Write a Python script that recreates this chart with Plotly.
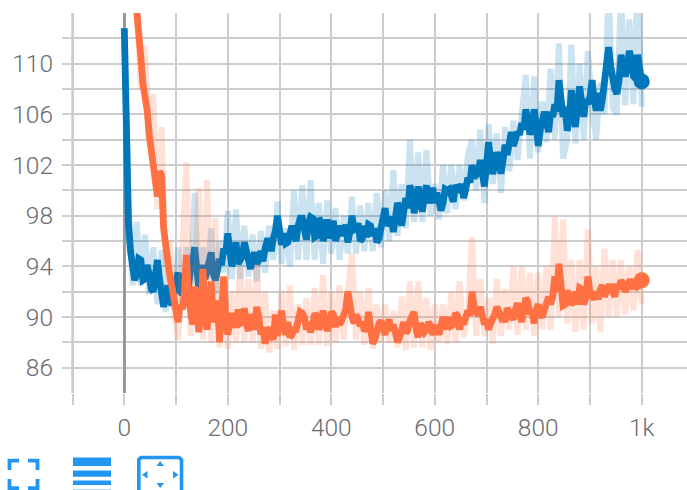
import plotly.graph_objects as go

steps = [0, 3] + list(range(8, 1001, 8))
mid_steps = list(range(12, 1000, 8))

blue_raw = [112.8, 106, 99.3, 92.5, 97.5, 92.5, 96.5, 91.8, 95.5, 91,
 95.3, 90.4, 93.5, 90.6, 95.5, 91, 95.5, 92, 99.8, 91.5,
 95.5, 93, 97, 91.8, 96, 93.5, 98.4, 93, 98.5, 93,
 97.2, 93.2, 96.5, 92.8, 96.8, 93.5, 97.2, 94.5, 99.1, 94.2,
 97, 94, 100, 94.5, 100.4, 94.5, 100.8, 94.5, 99, 94.2,
 99.2, 95, 98.6, 94.5, 98, 95, 99.5, 95, 98.8, 95.2,
 99, 95.2, 99.8, 95.5, 100, 96, 101.6, 96.4, 100.5, 97,
 104, 97.5, 103, 97.5, 103.2, 98, 100.5, 97.7, 102, 98.2,
 102, 98.5, 102, 99.2, 102.8, 104, 100, 104.8, 99, 105.2,
 100.5, 104.5, 99.8, 105, 101.5, 105.5, 102.4, 106, 109.1, 102.5,
 109, 103, 107, 103.8, 109.6, 104, 111.6, 102.5, 104, 111.5,
 103.7, 110, 104, 111, 106.5, 104, 108.5, 106, 116, 106.5,
 106, 116, 106.7, 113.5, 106.8, 117, 106.6]

blue_smooth = [112.8, 106, 97.5, 94, 93.4, 94.5, 93, 93.4, 92, 94.5,
 92, 91.6, 91.2, 92.2, 93.5, 91.8, 92.6, 93.8, 95.5, 92.2,
 94.1, 93.6, 95.1, 92.9, 94.6, 95.4, 96.6, 94, 95.9, 94.4,
 95.9, 94.3, 94.6, 94.2, 95.2, 95.4, 96, 96.2, 98, 95.7,
 95.8, 96.9, 96.6, 97.2, 97.8, 96.1, 97.9, 96.3, 97.8, 96,
 97.7, 97.2, 96, 97, 96.4, 95.9, 98, 97, 96, 97.2,
 97.3, 96.4, 95.9, 97, 98.6, 97.6, 96.7, 99, 97.2, 99.4,
 100.4, 98.2, 100.3, 98.3, 100.4, 99.6, 99, 99.2, 99, 100,
 99.6, 100.4, 99.9, 99.4, 101, 102, 101.2, 102.4, 100.3, 103.8,
 101.3, 103, 101.3, 103.6, 104.2, 103.5, 104.6, 105.3, 106.4, 104.4,
 106.4, 103.5, 105.6, 105.4, 106.2, 106.8, 108.7, 105.8, 104.7, 107.9,
 105, 108.2, 105.8, 106.8, 108.7, 106.3, 106.3, 108.7, 111.3, 108.4,
 107.6, 110.7, 109, 111, 109, 110.7, 108.6]

blue_smooth_mid = [95.2, 92.9, 94.6, 92.9, 94.1, 92.2, 92.9, 93, 90.8, 92.5,
 91, 93, 92, 93.4, 92.4, 94.3, 93, 93.5, 93, 94,
 93.4, 93.7, 94.1, 95, 95.2, 94.6, 94.2, 94.8, 95.2, 93.8,
 95.1, 94.5, 94.4, 96, 95.2, 96.8, 96.7, 96.6, 95.9, 97.2,
 96, 97.8, 97, 97.4, 97.8, 96.4, 97.5, 96.6, 96.2, 97.6,
 96.8, 97, 97.3, 96.7, 96.9, 97.4, 96.2, 96.3, 97.2, 97,
 96.2, 97.5, 97.2, 97.9, 97.8, 98.6, 98.3, 98.6, 99.7, 99,
 99.4, 99.6, 99, 100.2, 99.8, 98.4, 100.1, 100.1, 99.1, 100.2,
 100.5, 100.1, 100.6, 101, 101.4, 101, 102, 102.3, 102, 102.5,
 102.4, 102.8, 104.6, 103.9, 104.4, 104.8, 105.5, 105, 105.2, 104.8,
 106.2, 104.6, 105.8, 106.2, 107, 106.6, 105.6, 106.4, 106.8, 107,
 107.2, 107.4, 107.2, 107.7, 107.2, 109.4, 109.8, 108, 108.6, 110,
 109.6, 110.4, 108.8, 109.6]

orange_raw = [150, 140, 128, 120, 115, 108, 111.4, 103.5, 107.6, 98.5,
 105, 94, 96, 90.5, 88.2, 95, 102.2, 88.5, 93, 100.2,
 88.2, 100.8, 88, 97.8, 87.6, 93, 87.5, 92, 88, 94,
 88, 93, 88, 94.2, 87.5, 92, 87.2, 90.5, 87.5, 92.1,
 87.7, 92.5, 87.4, 91, 87.8, 91.5, 87.8, 92.3, 87.8, 93.3,
 87.7, 92, 88, 92.5, 88.2, 92.2, 95, 88.2, 92, 87.8,
 92.3, 87.5, 91, 88, 91, 88, 90.5, 87.6, 91.6, 87.4,
 92.8, 87.6, 92.8, 87.6, 91.5, 87.4, 91, 88, 91, 87.9,
 92, 88, 92.8, 88.4, 90.5, 96.3, 88.5, 93, 88.5, 91.5,
 87.9, 93, 88.5, 92.2, 89, 94, 88.6, 94, 89, 93.5,
 88.5, 93.5, 89, 94, 89, 97.9, 90, 97.7, 89.5, 94.5,
 88.8, 94.5, 89, 96.9, 89.5, 94, 88.8, 95.4, 90, 94.5,
 90, 94.5, 90.2, 94, 90.5, 95.3, 91]

orange_smooth = [150, 140, 125, 118, 114.5, 110.5, 107.5, 104.5, 102.8, 99.5,
 101.2, 95.5, 93.2, 91.3, 89.6, 90.6, 94.9, 90, 92.4, 88.8,
 93.8, 89, 92.8, 90, 88, 93.2, 88.6, 90.3, 89.2, 89.5,
 90.7, 88.9, 89.8, 90.8, 88.6, 87.9, 89.2, 88.2, 88.5, 90.5,
 88.6, 88.4, 89, 89.8, 90.3, 89, 88.8, 90.3, 89, 90.5,
 88.9, 90.4, 89.2, 89.4, 90.2, 92, 90, 90.2, 89.3, 88.9,
 90.4, 87.9, 89, 89.7, 88.6, 89.8, 89.4, 88, 88.9, 88.7,
 89.7, 90.4, 88.4, 89.1, 89, 89.3, 89.1, 88.6, 90, 89.1,
 89.3, 90.3, 89, 89.4, 90.5, 92, 90.4, 90.8, 89.4, 89,
 89.8, 90.8, 90, 89.6, 90.4, 89.8, 91.1, 89.6, 91.5, 90.2,
 89.5, 91, 90, 91.3, 91, 93.2, 94.2, 90.9, 92.1, 91,
 92, 92.3, 91, 93.2, 91.6, 92, 92.2, 91.6, 92.4, 91.8,
 92.6, 92.9, 92, 92.8, 92.2, 92.4, 92.9]

orange_smooth_mid = [120, 116, 112.8, 108.4, 106.4, 103.2, 101, 101.5, 97, 94,
 92.4, 90.2, 91, 91.7, 91.5, 89.4, 90.5, 90.3, 90.5, 91,
 89.6, 91.3, 90.2, 90, 89.7, 89.5, 90.6, 89.6, 89.4, 90.2,
 89, 90, 89.2, 88.5, 88.6, 90.2, 89.6, 89.2, 89.6, 88.6,
 89, 90.4, 90, 89.6, 89.3, 90, 89.5, 89.6, 89.4, 90.2,
 90, 89.7, 90.6, 90.6, 89.5, 89.8, 89.6, 89.1, 89.2, 88.2,
 89.5, 88.9, 89.4, 88.9, 88.8, 88.4, 89.6, 89, 90, 89,
 89.5, 88.8, 89.6, 88.6, 89.3, 89.4, 89.3, 90, 89.4, 90.1,
 89.9, 90, 90.1, 90.9, 90.1, 90, 89.8, 89.5, 90.2, 90.5,
 90.2, 90.7, 90, 90.6, 90.3, 90.6, 91.2, 90.5, 90.6, 90.2,
 90.6, 91.6, 91.6, 92, 91.5, 91, 91.5, 91.2, 91, 92.2,
 91.5, 92, 91.4, 91.4, 92.5, 92, 92.4, 91.6, 92.2, 92.6,
 92.4, 92.8, 92.8, 92.5]

assert len(mid_steps) == len(blue_smooth_mid) == len(orange_smooth_mid)
assert len(steps) == len(blue_raw) == len(blue_smooth) == len(orange_raw) == len(orange_smooth)

x_ticks = [-100, 0, 100, 200, 300, 400, 500, 600, 700, 800, 900, 1000]
x_labels = ["", "0", "", "200", "", "400", "", "600", "", "800", "", "1k"]
y_ticks = [84, 86, 88, 90, 92, 94, 96, 98, 100, 102, 104, 106, 108, 110, 112, 114]
y_labels = ["", "86", "", "90", "", "94", "", "98", "", "102", "", "106", "", "110", "", ""]

BLUE = "#0077bb"
ORANGE = "#ff7043"
ICON = "#2196f3"
GRID = "#cdcdcd"
W, H = 687, 490
L, T, B = 62, 13.3, 393


def fx(p):
    return (p - L) / (W - L)


def fy(p):
    return (B - p) / (B - T)


def poly(points, close=True):
    s = "M" + " L".join(f"{fx(a):.5f},{fy(b):.5f}" for a, b in points)
    return s + (" Z" if close else "")


def merged(main, mid):
    pairs = sorted(list(zip(steps, main)) + list(zip(mid_steps, mid)))
    return [p[0] for p in pairs], [p[1] for p in pairs]


fig = go.Figure()
for raw, smooth, mid, col in [(blue_raw, blue_smooth, blue_smooth_mid, BLUE),
                              (orange_raw, orange_smooth, orange_smooth_mid, ORANGE)]:
    fig.add_trace(go.Scatter(x=steps, y=raw, mode="lines", opacity=0.2,
                             line=dict(color=col, width=6)))
    mx, my = merged(smooth, mid)
    fig.add_trace(go.Scatter(x=mx, y=my, mode="lines",
                             line=dict(color=col, width=6.8)))
    fig.add_trace(go.Scatter(x=steps[-1:], y=smooth[-1:], mode="markers",
                             marker=dict(color=col, size=16), cliponaxis=False))

shapes = [dict(type="line", xref="x", yref="paper", x0=-100, x1=-100, y0=0, y1=1,
               line=dict(color="#aaaaaa", width=2), layer="below")]

# toolbar icons below the chart
for pts in [
    [(9.5, 470), (9.5, 460.5), (19, 460.5)],
    [(28, 460.5), (37.5, 460.5), (37.5, 470)],
    [(9.5, 479), (9.5, 488), (19, 488)],
    [(28, 488), (37.5, 488), (37.5, 479)],
]:
    shapes.append(dict(type="path", xref="paper", yref="paper", path=poly(pts, False),
                       line=dict(color=ICON, width=3.8)))
for y0, y1, c in [(457.5, 466, ICON), (470.5, 476.7, ICON), (480.5, 485, ICON), (489, 490, "#a6d5fa")]:
    shapes.append(dict(type="rect", xref="paper", yref="paper", x0=fx(73), x1=fx(111),
                       y0=fy(y1), y1=fy(y0), fillcolor=c, line=dict(width=0)))
shapes.append(dict(type="path", xref="paper", yref="paper",
                   path=poly([(138.8, 491), (138.8, 459.5), (141, 457.5), (179, 457.5), (181.5, 459.5), (181.5, 491)], False),
                   line=dict(color=ICON, width=3.6)))
for pts in [
    [(156.5, 466), (164, 466), (160.2, 461)],
    [(156.5, 483), (164, 483), (160.2, 488)],
    [(147.5, 471), (147.5, 478.5), (142, 474.7)],
    [(173, 471), (173, 478.5), (178.5, 474.7)],
]:
    shapes.append(dict(type="path", xref="paper", yref="paper", path=poly(pts),
                       fillcolor=ICON, line=dict(width=0)))

tick_font = dict(family="Roboto, Liberation Sans, sans-serif", size=24.5, color="#6b6b72", weight=300)

fig.update_layout(
    width=W, height=H, showlegend=False, paper_bgcolor="white", plot_bgcolor="white",
    margin=dict(l=L, r=0, t=T, b=H - B, pad=0),
    shapes=shapes, hovermode=False,
    xaxis=dict(range=[-120.4, 1087.5], tickmode="array", tickvals=x_ticks, ticktext=x_labels,
               showgrid=True, gridcolor=GRID, gridwidth=1.6, zeroline=True, zerolinecolor="#999999",
               zerolinewidth=2.6, ticks="outside", ticklen=11, tickwidth=1.6, tickcolor=GRID,
               tickfont=tick_font, showline=False, tickangle=0, ticklabelstandoff=2),
    yaxis=dict(range=[84, 114], tickmode="array", tickvals=y_ticks, ticktext=y_labels,
               showgrid=True, gridcolor=GRID, gridwidth=1.6, zeroline=False, ticks="",
               tickfont=tick_font, showline=False, ticklabelstandoff=8),
)

fig.write_html("out.html", config=dict(displayModeBar=False),
               post_script="document.body.style.margin='0';")
